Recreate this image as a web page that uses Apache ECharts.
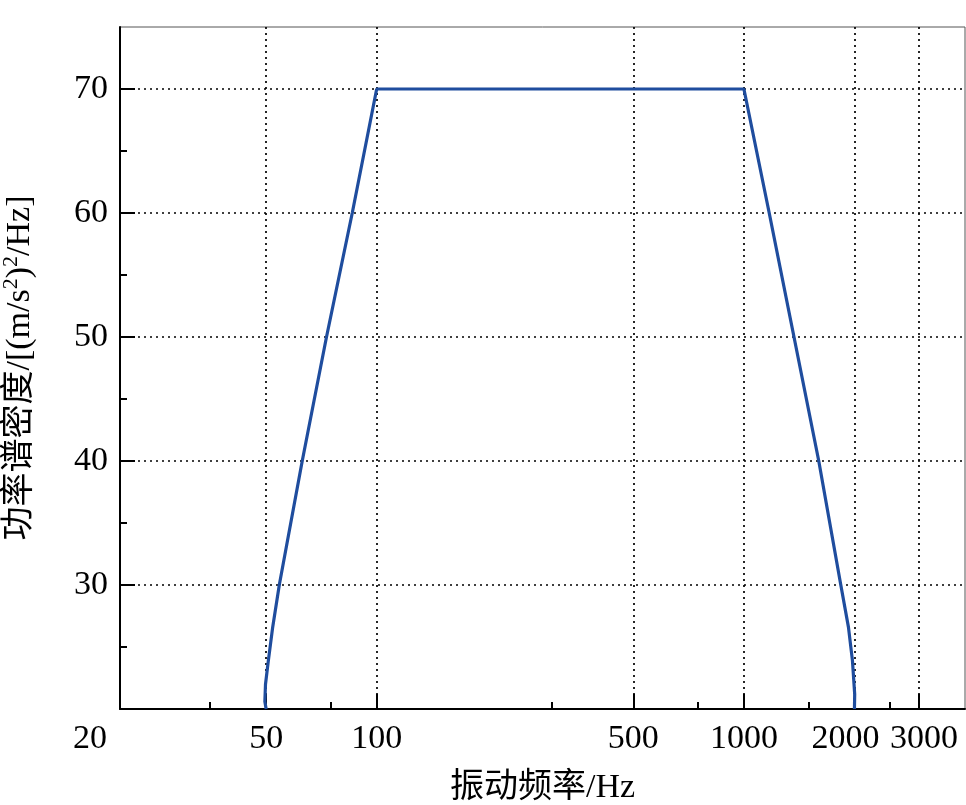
<!DOCTYPE html>
<html>
<head>
<meta charset="utf-8">
<script src="https://cdn.jsdelivr.net/npm/echarts@6/dist/echarts.min.js"></script>
<style>
html,body{margin:0;padding:0;background:#fff;}
#c{width:966px;height:805px;}
</style>
</head>
<body>
<div id="c"></div>
<script>
// Data
const freqHz = [50, 49.6, 49.8, 50.7, 52.1, 54.3, 62.7, 73.0, 85.8, 100, 1000, 1172, 1369, 1599, 1836, 1926, 1975, 2003, 2000];
const psdVal = [20, 20.6, 22.0, 23.9, 26.6, 30, 40, 50, 60, 70, 70, 60, 50, 40, 30, 26.6, 23.9, 21.2, 20];
const xMajorTicks = [20, 50, 100, 500, 1000, 2000, 3000];
const xMinorTicks = [35, 75, 300, 750, 1500, 2500];
const yMajorTicks = [30, 40, 50, 60, 70];
const yMinorTicks = [25, 35, 45, 55, 65];

const FONT = "'Liberation Serif', 'Noto Sans CJK SC', serif";
const points = freqHz.map((f, i) => [f, psdVal[i]]);

const chart = echarts.init(document.getElementById('c'));
chart.setOption({
  backgroundColor: '#fff',
  animation: false,
  grid: {
    left: 120, right: 1, top: 27, bottom: 96,
    outerBoundsMode: 'none', containLabel: false,
    show: true, borderColor: '#555', borderWidth: 1
  },
  xAxis: [{
    type: 'log', logBase: 10, min: 20, max: 4000,
    name: '振动频率/Hz', nameLocation: 'middle', nameGap: 62,
    nameTextStyle: { fontFamily: FONT, fontSize: 34, color: '#000' },
    axisLine: { show: true, onZero: false, lineStyle: { color: '#000', width: 2 } },
    axisTick: { show: true, inside: true, length: 15, customValues: xMajorTicks, lineStyle: { color: '#000', width: 2 } },
    axisLabel: {
      show: true, customValues: xMajorTicks, margin: 13, hideOverlap: false,
      showMinLabel: true, showMaxLabel: true,
      fontFamily: FONT, fontSize: 34, color: '#000',
      formatter: function (v) {
        const s = String(Math.round(v));
        if (s === '20') return '{a|' + s + '}';
        if (s === '2000') return '{b|' + s + '}';
        if (s === '3000') return '{c|' + s + '}';
        return s;
      },
      rich: {
        a: { fontFamily: FONT, fontSize: 34, color: '#000', padding: [0, 60, 0, 0] },
        b: { fontFamily: FONT, fontSize: 34, color: '#000', padding: [0, 18, 0, 0] },
        c: { fontFamily: FONT, fontSize: 34, color: '#000', padding: [0, 0, 0, 10] }
      }
    },
    splitLine: { show: true, lineStyle: { color: '#000', type: [2, 4], width: 1.7 } },
    minorTick: { show: false }
  }, {
    type: 'log', logBase: 10, min: 20, max: 4000, position: 'bottom', gridIndex: 0,
    axisLine: { show: false },
    axisTick: { show: true, inside: true, length: 7, customValues: xMinorTicks, lineStyle: { color: '#000', width: 2 } },
    axisLabel: { show: false, customValues: xMinorTicks },
    splitLine: { show: false }
  }],
  yAxis: [{
    type: 'value', min: 20, max: 75,
    name: '功率谱密度/[(m/s{sup|2}){sup|2}/Hz]', nameLocation: 'middle', nameGap: 80,
    nameRotate: 90,
    nameTextStyle: {
      fontFamily: FONT, fontSize: 34, color: '#000', lineHeight: 40,
      rich: { sup: { fontFamily: FONT, fontSize: 22, color: '#000', verticalAlign: 'top', lineHeight: 24 } }
    },
    axisLine: { show: true, onZero: false, lineStyle: { color: '#000', width: 2 } },
    axisTick: { show: true, inside: true, length: 15, customValues: yMajorTicks, lineStyle: { color: '#000', width: 2 } },
    axisLabel: { show: true, customValues: yMajorTicks, margin: 12, fontFamily: FONT, fontSize: 34, color: '#000' },
    splitLine: { show: true, lineStyle: { color: '#000', type: [2, 4], width: 1.7 } }
  }, {
    type: 'value', min: 20, max: 75, position: 'left', gridIndex: 0,
    axisLine: { show: false },
    axisTick: { show: true, inside: true, length: 7, customValues: yMinorTicks, lineStyle: { color: '#000', width: 2 } },
    axisLabel: { show: false, customValues: yMinorTicks },
    splitLine: { show: false }
  }],
  series: [{
    type: 'line', xAxisIndex: 0, yAxisIndex: 0,
    data: points, showSymbol: false, smooth: false,
    lineStyle: { color: '#1f4d9e', width: 3.2 },
    z: 5
  }]
});
</script>
</body>
</html>
